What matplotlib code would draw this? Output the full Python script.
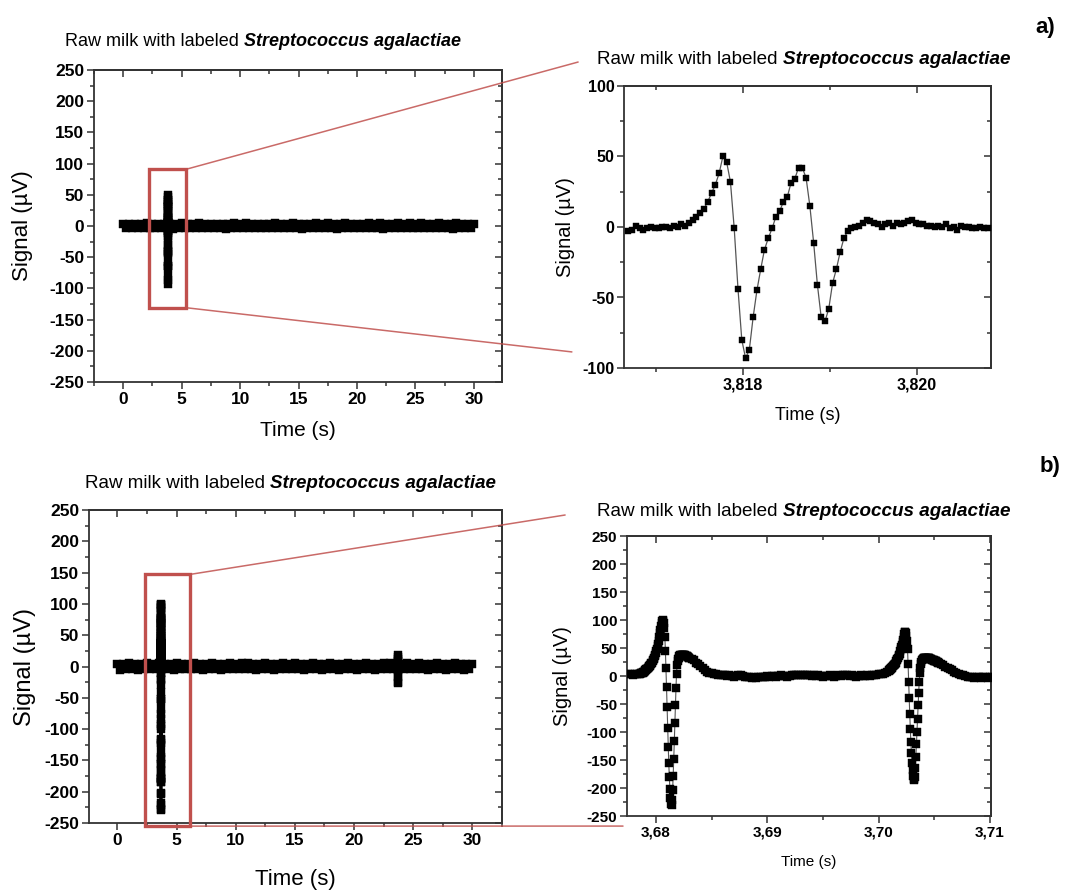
import numpy as np
import matplotlib
matplotlib.use('Agg')
import matplotlib.pyplot as plt
from matplotlib.patches import Rectangle, ConnectionPatch
from matplotlib.ticker import MultipleLocator, FuncFormatter

plt.rcParams['font.family'] = ['Liberation Sans', 'DejaVu Sans']
plt.rcParams['axes.unicode_minus'] = False

W, H = 1072, 896

title_plain = 'Raw milk with labeled '
title_species = 'Streptococcus agalactiae'
ylabel = 'Signal (\u00b5V)'
xlabel = 'Time (s)'

# a) zoomed event (uV), one value per sample
ev_a_t0 = 3.81668
ev_a_dt = 1 / 23000
ev_a = [
    -3, -2, 1, -1, -2, -1, 0, -1, -1, 0,
    0, -1, 1, 0, 2, 1, 3, 5, 7, 10,
    13, 18, 24, 30, 38, 50, 46, 32, -1, -44,
    -80, -93, -87, -64, -45, -30, -16, -8, -1, 7,
    11, 18, 21, 31, 34, 42, 42, 35, 15, -11,
    -41, -64, -67, -58, -40, -30, -18, -8, -3, -1,
    0, 1, 3, 5, 4, 3, 2, 0, 2, 3,
    1, 3, 2, 3, 4, 5, 3, 2, 2, 1,
    1, 0, 1, 0, 2, -1, 0, -2, 1, 0,
    0, -1, -1, 0, -1, -1]

# b) zoomed window as (start, step, values) pieces:
# full rate on the two events, every 4th sample on the flat baseline
ev_b_pieces = [
    (3.6775, 0.0002, [3, 4, 2, 4, 3, 4]),
    (3.6786, 0.00005, [
        4, 5, 5, 6, 6, 7, 8, 8, 9, 10,
        11, 12, 13, 14, 15, 16, 17, 18, 20, 21,
        23, 24, 26, 28, 30, 32, 35, 38, 41, 45,
        49, 53, 58, 63, 69, 76, 83, 89, 94, 98,
        100, 99, 95, 86, 70, 45, 15, -20, -55, -92,
        -126, -155, -180, -202, -218, -228, -230, -222, -204, -178,
        -148, -116, -84, -52, -22, 4, 20, 27, 31, 33,
        35, 36, 37, 37, 38, 38, 38, 38, 38, 37,
        37, 36, 36, 35, 35, 34, 34, 33, 33]),
    (3.6832, 0.0002, [
        31, 28, 24, 21, 17, 14, 11, 8, 6, 5,
        4, 3, 2, 2, 1, 1, 0, 1, 0, -1,
        0, 1, 1, 0, -1, -2, -2, -3, -2, -3,
        -2, -1, -2, -1, 0, -1, 0, 0, -1, 0,
        1, 0, 0, -1, 0, 1, 1, 2, 1, 2,
        2, 1, 2, 1, 0, 1, 0, 1, 0, -1,
        0, 0, 1, 0, -1, 0, 1, 0, 1, 2,
        1, 0, 1, 0, -1, 0, 1, 0, 0, 1,
        0, 1, 2, 2, 3, 3, 4, 5, 7]),
    (3.7009, 0.00005, [
        9, 10, 11, 12, 13, 14, 15, 16, 18, 19,
        20, 21, 22, 24, 26, 28, 30, 32, 35, 38,
        40, 44, 48, 52, 56, 60, 65, 70, 75, 78,
        78, 76, 72, 62, 48, 22, -10, -40, -68, -95,
        -118, -138, -155, -168, -178, -184, -185, -180, -165, -145,
        -122, -100, -76, -52, -30, -10, 5, 15, 21, 25,
        28, 30, 31, 32, 32, 33, 33, 33, 33, 33,
        33, 33, 32, 32, 31, 31, 30, 30, 29, 29,
        28, 28, 27, 27, 26, 26, 26, 25, 25, 24,
        24]),
    (3.7056, 0.0002, [22, 19, 16, 14, 12, 10, 8, 6, 4, 2, 1, 0,
                      -1, -2, -1, -3, -2, -2, -3, -1, -2, -3, -2, -2]),
]

# 30 s overview traces, one point every 0.25 s
overview_t0 = 0.0
overview_dt = 0.25
noise_a = [
    4, -4, 4, -3, 4, -4, 3, -4, 5, -4, 4, -4, 4, -3, 4, -4, 4, -5, 4, -4,
    5, -4, 4, -4, 4, -3, 5, -4, 4, -4, 4, -3, 4, -4, 4, -5, 4, -4, 5, -4,
    4, -4, 5, -3, 4, -4, 4, -4, 4, -4, 4, -3, 5, -4, 4, -4, 4, -4, 5, -4,
    4, -5, 4, -4, 4, -3, 5, -4, 4, -4, 5, -4, 4, -5, 4, -4, 5, -4, 4, -3,
    4, -4, 4, -4, 5, -4, 4, -4, 5, -5, 4, -4, 4, -3, 5, -4, 4, -4, 5, -4,
    4, -4, 5, -4, 4, -4, 4, -4, 5, -3, 4, -4, 4, -5, 5, -4, 4, -4, 4, -4,
    4]
noise_b = [
    4, -5, 4, -4, 5, -4, 4, -5, 4, -4, 5, -4, 4, -4, 5, -4, 4, -4, 4, -5,
    5, -4, 4, -4, 4, -4, 5, -4, 4, -5, 4, -4, 5, -4, 4, -5, 4, -4, 5, -4,
    4, -4, 5, -4, 5, -4, 4, -5, 4, -4, 5, -4, 4, -5, 4, -4, 5, -4, 4, -4,
    5, -4, 4, -5, 4, -4, 5, -4, 4, -5, 4, -4, 5, -4, 4, -5, 4, -4, 5, -4,
    4, -5, 4, -4, 5, -4, 4, -5, 4, -4, 5, -4, 5, -4, 4, -5, 4, -4, 5, -4,
    4, -4, 5, -4, 4, -5, 4, -4, 5, -4, 4, -5, 4, -4, 5, -4, 4, -5, 4, -4,
    4]
# small event near 24 s in b)
ev_b2_t0 = 23.70
ev_b2 = [4, 9, 15, 19, 12, -2, -16, -27, -24, -12, -4]

# zoom windows marked on the overviews: (t0, t1, v0, v1)
box_a = (2.2, 5.4, -131, 91)
box_b = (2.3, 6.1, -255, 147)

red = '#c0504d'
spine_c = '#333333'


def trace(t0, dt, vals):
    return t0 + dt * np.arange(len(vals)), np.asarray(vals, dtype=float)


def merge(*parts):
    t = np.concatenate([p[0] for p in parts])
    v = np.concatenate([p[1] for p in parts])
    order = np.argsort(t, kind='stable')
    return t[order], v[order]


def px_axes(l, t, r, b):
    return fig.add_axes([l / W, 1 - b / H, (r - l) / W, (b - t) / H])


def style(ax, xlim, ylim, xmaj, xmin, ymaj, ymin, tick_fs, fmt=None):
    ax.set_xlim(*xlim)
    ax.set_ylim(*ylim)
    for s in ax.spines.values():
        s.set_color(spine_c)
        s.set_linewidth(1.3)
    ax.xaxis.set_major_locator(MultipleLocator(xmaj))
    ax.xaxis.set_minor_locator(MultipleLocator(xmin))
    ax.yaxis.set_major_locator(MultipleLocator(ymaj))
    ax.yaxis.set_minor_locator(MultipleLocator(ymin))
    if fmt:
        ax.xaxis.set_major_formatter(FuncFormatter(fmt))
    ax.tick_params(which='both', direction='out', width=1.1, color=spine_c,
                   labelsize=tick_fs, pad=2)
    ax.tick_params(which='major', length=5)
    ax.tick_params(which='minor', length=3)
    # inward mirrored ticks on top and right
    top = ax.secondary_xaxis('top')
    right = ax.secondary_yaxis('right')
    for sec, axis, maj, mn in ((top, top.xaxis, xmaj, xmin), (right, right.yaxis, ymaj, ymin)):
        axis.set_major_locator(MultipleLocator(maj))
        axis.set_minor_locator(MultipleLocator(mn))
        sec.tick_params(which='both', direction='in', width=1.1, color=spine_c,
                        labeltop=False, labelright=False)
        sec.tick_params(which='major', length=5)
        sec.tick_params(which='minor', length=3)
        for s in sec.spines.values():
            s.set_color(spine_c)
            s.set_linewidth(1.3)
    for lab in ax.get_xticklabels() + ax.get_yticklabels():
        lab.set_fontweight('bold')


def labels(ax, xfs, yfs, xpos, ypos):
    ax.set_xlabel(xlabel, fontsize=xfs)
    ax.set_ylabel(ylabel, fontsize=yfs)
    ax.xaxis.set_label_coords(0.5, xpos)
    ax.yaxis.set_label_coords(ypos, 0.5)
    ax.xaxis.label.set_va('center')
    ax.yaxis.label.set_va('center')


def title(ax, x, y, fs):
    t1 = fig.text(x / W, 1 - y / H, title_plain, fontsize=fs, va='center', ha='left')
    ax.annotate(title_species, xy=(1, 0), xycoords=t1, ha='left', va='bottom',
                fontsize=fs, fontweight='bold', fontstyle='italic', annotation_clip=False)


def plot_trace(ax, t, v, ms, lw, lc='#555555'):
    ax.plot(t, v, color=lc, lw=lw, marker='s', ms=ms, mfc='black', mec='black',
            mew=0.3, zorder=3)


fig = plt.figure(figsize=(W / 100, H / 100), dpi=100)

ax_tl = px_axes(94, 70, 502, 382)
ax_tr = px_axes(624, 86, 991, 368)
ax_bl = px_axes(89, 510, 502, 823)
ax_br = px_axes(627, 536, 991, 816)

ev_a_tr = trace(ev_a_t0, ev_a_dt, ev_a)
ev_b_tr = merge(*[trace(*p) for p in ev_b_pieces])
over_a = merge(trace(overview_t0, overview_dt, noise_a), ev_a_tr)
over_b = merge(trace(overview_t0, overview_dt, noise_b), ev_b_tr,
               trace(ev_b2_t0, 0.00005, ev_b2))

plot_trace(ax_tl, *over_a, ms=5.6, lw=2.0, lc='black')
plot_trace(ax_tr, *ev_a_tr, ms=4.8, lw=0.9)
plot_trace(ax_bl, *over_b, ms=5.6, lw=2.0, lc='black')
plot_trace(ax_br, *ev_b_tr, ms=6.0, lw=0.8)

style(ax_tl, (-2.5, 32.4), (-250, 250), 5, 2.5, 50, 25, 12.5)
style(ax_bl, (-2.4, 32.5), (-250, 250), 5, 2.5, 50, 25, 12.5)
style(ax_tr, (3.81663, 3.82085), (-100, 100), 0.002, 0.001, 50, 25, 11.5,
      fmt=lambda v, p: f'{v:.3f}'.replace('.', ','))
style(ax_br, (3.6774, 3.7101), (-250, 250), 0.01, 0.005, 50, 25, 11,
      fmt=lambda v, p: f'{v:.2f}'.replace('.', ','))

labels(ax_tl, 15, 16, -0.154, -0.175)
labels(ax_bl, 16, 17, -0.18, -0.155)
labels(ax_tr, 13, 14.5, -0.17, -0.16)
labels(ax_br, 11, 14.5, -0.164, -0.176)

title(ax_tl, 65, 42, 13)
title(ax_tr, 597, 60, 13.6)
title(ax_bl, 85, 483, 13.5)
title(ax_br, 597, 511, 13.6)

# zoom boxes and connectors
for ax_o, ax_z, box, ends in (
        (ax_tl, ax_tr, box_a, ((-0.125, 1.085), (-0.142, 0.057))),
        (ax_bl, ax_br, box_b, ((-0.17, 1.075), (-0.011, -0.036)))):
    t0, t1, v0, v1 = box
    ax_o.add_patch(Rectangle((t0, v0), t1 - t0, v1 - v0, fill=False, ec=red,
                             lw=2.4, zorder=4, clip_on=False))
    for (tb, vb), end in zip(((t1, v1), (t1, v0)), ends):
        con = ConnectionPatch(xyA=(tb, vb), coordsA=ax_o.transData,
                              xyB=end, coordsB=ax_z.transAxes,
                              color=red, lw=1.1, alpha=0.85)
        fig.add_artist(con)

fig.text(1045 / W, 1 - 28 / H, 'a)', fontsize=16, fontweight='bold', va='center', ha='center')
fig.text(1050 / W, 1 - 466 / H, 'b)', fontsize=16, fontweight='bold', va='center', ha='center')

fig.savefig('out.png', dpi=100)
